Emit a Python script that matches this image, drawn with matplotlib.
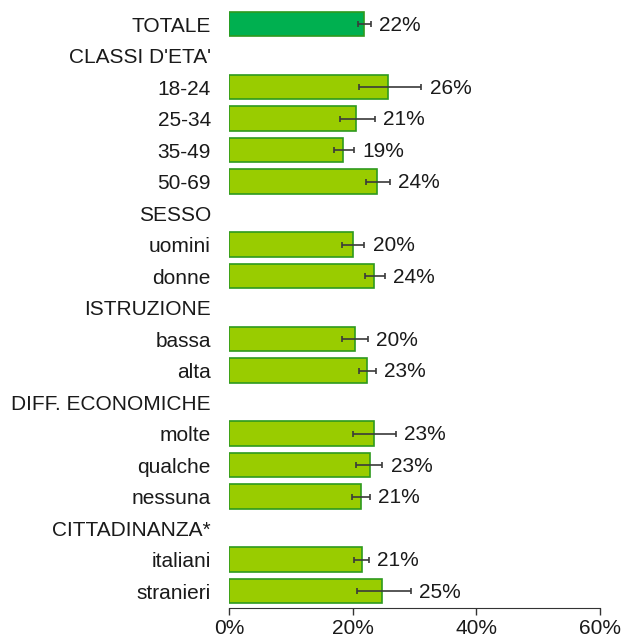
import numpy as np
import matplotlib
matplotlib.use("Agg")
import matplotlib.pyplot as plt

plt.rcParams['font.family'] = ['Liberation Sans', 'DejaVu Sans']

# righe del grafico (le intestazioni non hanno barra)
labels = ["TOTALE", "CLASSI D'ETA'", "18-24", "25-34", "35-49", "50-69",
          "SESSO", "uomini", "donne", "ISTRUZIONE", "bassa", "alta",
          "DIFF. ECONOMICHE", "molte", "qualche", "nessuna",
          "CITTADINANZA*", "italiani", "stranieri"]
values = [21.9, np.nan, 25.8, 20.6, 18.5, 24.0,
          np.nan, 20.0, 23.4, np.nan, 20.4, 22.4,
          np.nan, 23.4, 22.8, 21.4, np.nan, 21.5, 24.8]
err_low = [20.8, np.nan, 21.0, 18.0, 17.0, 22.2,
           np.nan, 18.3, 22.0, np.nan, 18.3, 21.1,
           np.nan, 20.0, 20.5, 19.9, np.nan, 20.3, 20.7]
err_high = [23.0, np.nan, 31.1, 23.6, 20.2, 26.0,
            np.nan, 21.9, 25.2, np.nan, 22.5, 23.8,
            np.nan, 27.0, 24.8, 22.8, np.nan, 22.6, 29.4]
pct_text = ["22%", "", "26%", "21%", "19%", "24%",
            "", "20%", "24%", "", "20%", "23%",
            "", "23%", "23%", "21%", "", "21%", "25%"]
x_ticks = [0, 20, 40, 60]

fig = plt.figure(figsize=(6.22, 6.39), dpi=100)
ax = fig.add_axes([0.368, 0.048, 0.5966, 0.9415])

y = np.arange(len(labels))
for i in range(len(labels)):
    if np.isnan(values[i]):
        continue
    color = '#00B050' if i == 0 else '#99CC00'
    ax.barh(y[i], values[i], height=0.78, color=color, edgecolor='#2E9A1E', linewidth=1.2)
    ax.errorbar(values[i], y[i],
                xerr=[[values[i] - err_low[i]], [err_high[i] - values[i]]],
                fmt='none', ecolor='#3a3a3a', elinewidth=1.2, capsize=2.5, capthick=1.2)
    ax.annotate(pct_text[i], (err_high[i], y[i]), xytext=(6, -1), textcoords='offset points',
                ha='left', va='center', fontsize=15, color='#1a1a1a')

ax.set_yticks(y)
ax.set_yticklabels(labels, fontsize=15, color='#1a1a1a')
ax.tick_params(axis='y', length=0, pad=13)
ax.set_ylim(18.55, -0.55)

ax.set_xlim(0, 60)
ax.set_xticks(x_ticks)
ax.set_xticklabels([f"{t}%" for t in x_ticks], fontsize=15, color='#1a1a1a')
ax.tick_params(axis='x', length=5, width=1, color='#333333', pad=3)

for s in ['top', 'right', 'left']:
    ax.spines[s].set_visible(False)
ax.spines['bottom'].set_color('#333333')

fig.savefig('out.png', dpi=100)
